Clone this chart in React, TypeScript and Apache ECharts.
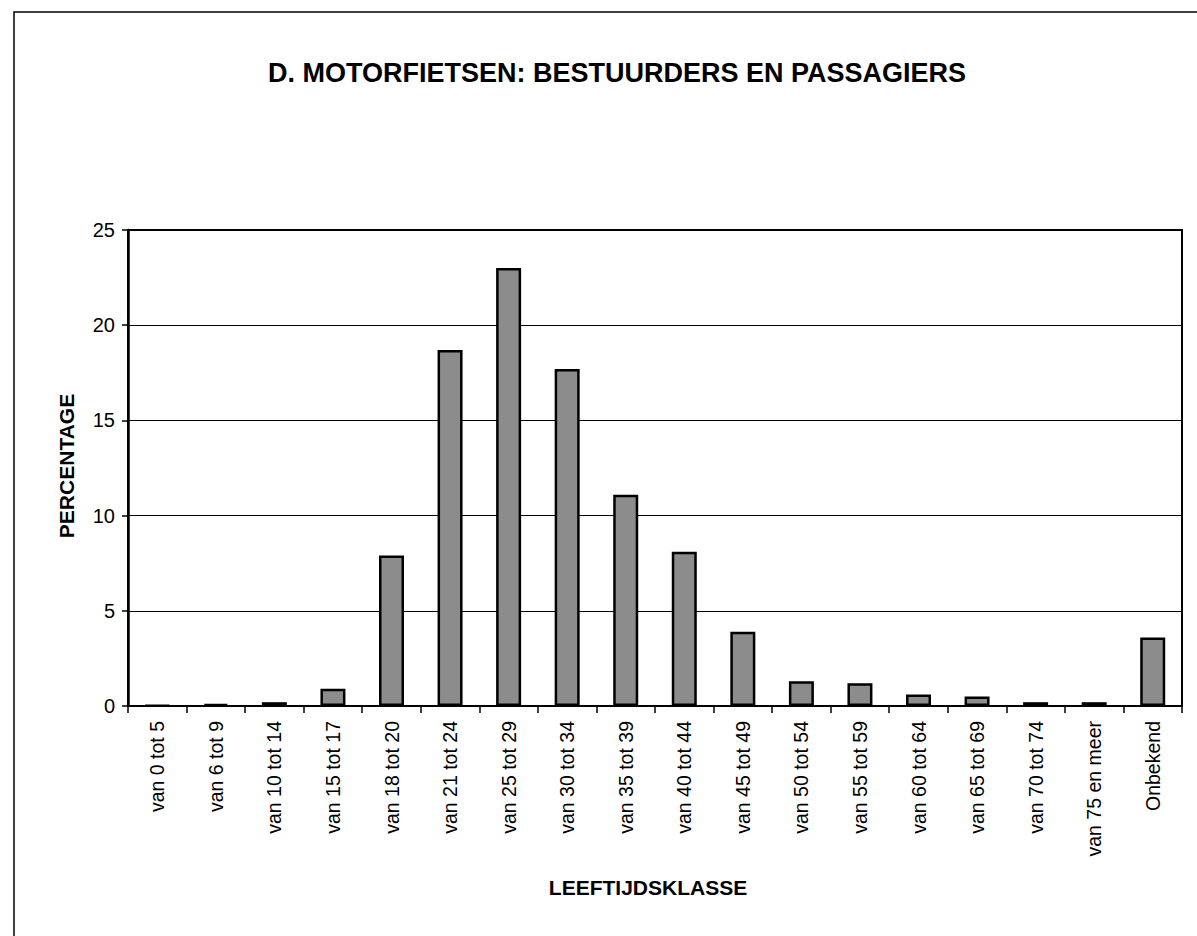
import React, { useEffect, useRef } from "react";
import * as echarts from "echarts";

const categories: string[] = [
  "van 0 tot 5",
  "van 6 tot 9",
  "van 10 tot 14",
  "van 15 tot 17",
  "van 18 tot 20",
  "van 21 tot 24",
  "van 25 tot 29",
  "van 30 tot 34",
  "van 35 tot 39",
  "van 40 tot 44",
  "van 45 tot 49",
  "van 50 tot 54",
  "van 55 tot 59",
  "van 60 tot 64",
  "van 65 tot 69",
  "van 70 tot 74",
  "van 75 en meer",
  "Onbekend",
];

const percentages: number[] = [
  0.03, 0.1, 0.2, 0.9, 7.9, 18.7, 23.0, 17.7, 11.1, 8.1, 3.9, 1.3, 1.2, 0.6, 0.5, 0.2, 0.2, 3.6,
];

const titleText = "D. MOTORFIETSEN: BESTUURDERS EN PASSAGIERS";
const xAxisTitle = "LEEFTIJDSKLASSE";
const yAxisTitle = "PERCENTAGE";

const FONT = "'Liberation Sans', Arial, Helvetica, sans-serif";

export default function App() {
  const ref = useRef<HTMLDivElement>(null);

  useEffect(() => {
    if (!ref.current) return;
    const chart = echarts.init(ref.current, null, { renderer: "svg" });
    chart.setOption({
      animation: false,
      backgroundColor: "#ffffff",
      title: {
        text: titleText,
        left: 612,
        top: 54,
        textAlign: "center",
        textStyle: {
          fontFamily: FONT,
          fontWeight: "bold",
          fontSize: 27,
          color: "#000",
        },
      },
      graphic: [
        {
          type: "rect",
          shape: { x: 14, y: 12, width: 1200, height: 940 },
          style: { fill: "none", stroke: "#000", lineWidth: 1.5 },
          silent: true,
        },
        {
          type: "text",
          x: 648,
          y: 887,
          style: {
            text: xAxisTitle,
            font: `bold 21px ${FONT}`,
            fill: "#000",
            align: "center",
            verticalAlign: "middle",
          },
        },
        {
          type: "text",
          x: 66,
          y: 466,
          rotation: Math.PI / 2,
          style: {
            text: yAxisTitle,
            font: `bold 21px ${FONT}`,
            fill: "#000",
            align: "center",
            verticalAlign: "middle",
          },
        },
      ],
      grid: {
        left: 128,
        top: 230,
        width: 1054,
        height: 476,
        show: true,
        borderColor: "#000",
        borderWidth: 2,
        backgroundColor: "transparent",
      },
      xAxis: {
        type: "category",
        data: categories,
        axisLine: { show: true, lineStyle: { color: "#000", width: 2 } },
        axisTick: { show: true, length: 7, lineStyle: { color: "#000", width: 1.5 } },
        axisLabel: {
          interval: 0,
          rotate: 90,
          margin: 15,
          fontFamily: FONT,
          fontSize: 19.5,
          color: "#000",
        },
      },
      yAxis: {
        type: "value",
        min: 0,
        max: 25,
        interval: 5,
        axisLine: { show: true, lineStyle: { color: "#000", width: 2.5 } },
        axisTick: { show: true, length: 6, lineStyle: { color: "#000", width: 1.5 } },
        axisLabel: {
          margin: 13,
          fontFamily: FONT,
          fontSize: 20,
          color: "#000",
        },
        splitLine: { show: true, lineStyle: { color: "#000", width: 1.2 } },
      },
      series: [
        {
          type: "bar",
          data: percentages,
          barWidth: 25,
          itemStyle: {
            color: "#8c8c8c",
            borderColor: "#000",
            borderWidth: 2.5,
          },
        },
      ],
    });
    return () => chart.dispose();
  }, []);

  return (
    <div
      ref={ref}
      style={{ position: "fixed", left: 0, top: 0, width: 1197, height: 936 }}
    />
  );
}
